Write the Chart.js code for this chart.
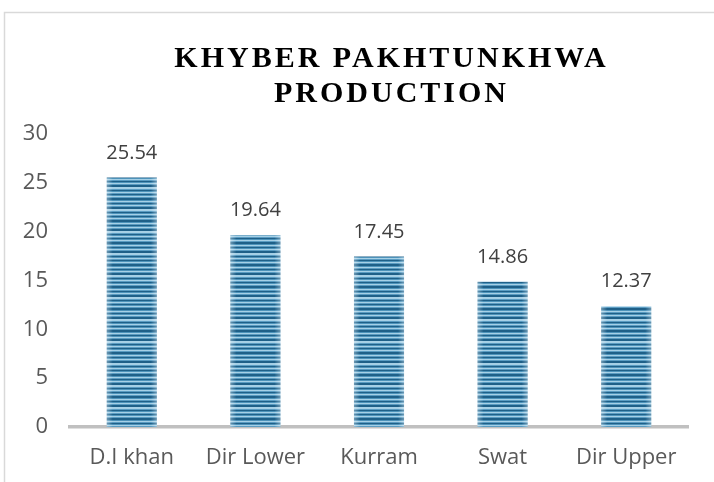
<!DOCTYPE html>
<html>
<head>
<meta charset="utf-8">
<script src="https://cdn.jsdelivr.net/npm/chart.js@4"></script>
<style>
html,body{margin:0;padding:0;background:#fff;}
#wrap{width:714px;height:482px;position:relative;}
</style>
</head>
<body>
<div id="wrap"><canvas id="c" width="714" height="482"></canvas></div>
<script>
const categories = ["D.I khan", "Dir Lower", "Kurram", "Swat", "Dir Upper"];
const production = [25.54, 19.64, 17.45, 14.86, 12.37];
const yTicks = [0, 5, 10, 15, 20, 25, 30];
const titleLines = ["KHYBER PAKHTUNKHWA", "PRODUCTION"];

const FONT = "'Open Sans', 'Noto Sans', sans-serif";

function makePattern(ctx) {
  const p = document.createElement('canvas');
  p.width = 4; p.height = 22;
  const g = p.getContext('2d');
  for (let i = 0; i < 22; i++) {
    const ph = (i % 4.4);
    let col;
    if (ph < 1.3) col = '#1f6088';
    else if (ph < 2.1) col = '#4d93ba';
    else if (ph < 3.3) col = '#a6d0e6';
    else col = '#5a9cc2';
    g.fillStyle = col;
    g.fillRect(0, i, 4, 1);
  }
  return ctx.createPattern(p, 'repeat');
}

const canvas = document.getElementById('c');
const ctx = canvas.getContext('2d');
const pattern = makePattern(ctx);

const framePlugin = {
  id: 'frame',
  beforeDraw(chart) {
    const c = chart.ctx;
    c.save();
    c.fillStyle = '#fff';
    c.fillRect(0, 0, chart.width, chart.height);
    c.strokeStyle = '#d9d9d9';
    c.lineWidth = 1.5;
    c.strokeRect(4.5, 12.5, 900, 900);
    c.restore();
  }
};

const titlePlugin = {
  id: 'spacedTitle',
  afterDraw(chart) {
    const c = chart.ctx;
    c.save();
    c.fillStyle = '#000';
    c.font = "bold 30px 'Liberation Serif', 'DejaVu Serif', serif";
    c.letterSpacing = '3px';
    c.textAlign = 'center';
    c.textBaseline = 'alphabetic';
    const cx = 391.5;
    c.fillText(titleLines[0], cx, 67);
    c.fillText(titleLines[1], cx, 102);
    c.restore();
  }
};

const barShadePlugin = {
  id: 'barShade',
  afterDatasetsDraw(chart) {
    const c = chart.ctx;
    const meta = chart.getDatasetMeta(0);
    c.save();
    meta.data.forEach((bar) => {
      const l = bar.x - bar.width / 2, r = bar.x + bar.width / 2;
      const gr = c.createLinearGradient(l, 0, r, 0);
      gr.addColorStop(0, 'rgba(255,255,255,0.35)');
      gr.addColorStop(0.12, 'rgba(255,255,255,0)');
      gr.addColorStop(0.88, 'rgba(255,255,255,0)');
      gr.addColorStop(1, 'rgba(255,255,255,0.35)');
      c.fillStyle = gr;
      c.fillRect(l, bar.y, bar.width, bar.base - bar.y);
    });
    c.restore();
  }
};

const labelPlugin = {
  id: 'valueLabels',
  afterDatasetsDraw(chart) {
    const c = chart.ctx;
    const meta = chart.getDatasetMeta(0);
    c.save();
    c.fillStyle = '#404040';
    c.font = "20px " + FONT;
    c.textAlign = 'center';
    c.textBaseline = 'alphabetic';
    meta.data.forEach((bar, i) => {
      c.fillText(production[i].toFixed(2), bar.x, bar.y - 19);
    });
    c.restore();
  }
};

new Chart(canvas, {
  type: 'bar',
  data: {
    labels: categories,
    datasets: [{
      data: production,
      backgroundColor: pattern,
      borderWidth: 0,
      categoryPercentage: 1,
      barPercentage: 0.405
    }]
  },
  options: {
    responsive: false,
    animation: false,
    devicePixelRatio: 1,
    layout: { padding: { left: 4, right: 26, top: 134, bottom: 0 } },
    plugins: { legend: { display: false }, title: { display: false }, tooltip: { enabled: false } },
    scales: {
      x: {
        grid: { display: false, drawTicks: false },
        border: { display: true, color: '#c0c0c0', width: 3.5 },
        ticks: { color: '#595959', font: { family: FONT, size: 22 }, padding: 18 },
        afterFit(scale) { scale.height = 55; }
      },
      y: {
        min: 0, max: 30,
        afterBuildTicks(scale) { scale.ticks = yTicks.map(v => ({ value: v })); },
        grid: { display: false, drawTicks: false },
        border: { display: false },
        ticks: { color: '#595959', font: { family: FONT, size: 22 }, padding: 22 },
        afterFit(scale) { scale.width = 66; }
      }
    }
  },
  plugins: [framePlugin, titlePlugin, barShadePlugin, labelPlugin]
});
</script>
</body>
</html>
